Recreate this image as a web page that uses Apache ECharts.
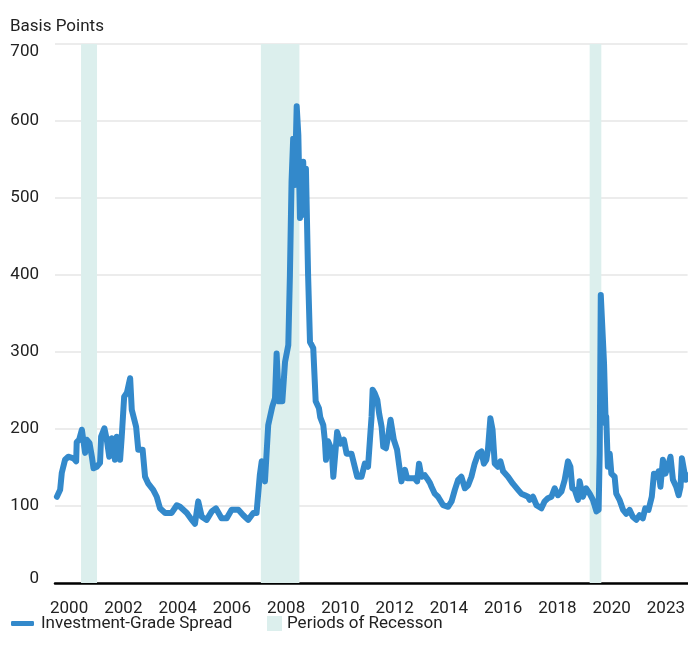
<!DOCTYPE html>
<html>
<head>
<meta charset="utf-8">
<script src="https://cdn.jsdelivr.net/npm/echarts@6/dist/echarts.min.js"></script>
<style>
  html, body { margin: 0; padding: 0; background: #fff; }
  #chart { width: 688px; height: 659px; }
</style>
</head>
<body>
<div id="chart"></div>
<script>
// Investment-grade corporate bond spread (basis points), plotted against chart year
const years = [
  1999.55, 1999.67, 1999.73, 1999.85, 1999.97, 2000.16, 2000.26, 2000.28, 2000.37, 2000.47,
  2000.53, 2000.59, 2000.65, 2000.75, 2000.84, 2000.90, 2001.02, 2001.14, 2001.18, 2001.30,
  2001.39, 2001.48, 2001.57, 2001.63, 2001.69, 2001.76, 2001.88, 2001.94, 2002.03, 2002.13,
  2002.25, 2002.31, 2002.47, 2002.55, 2002.71, 2002.80, 2002.92, 2003.10, 2003.23, 2003.35,
  2003.54, 2003.78, 2003.97, 2004.09, 2004.34, 2004.52, 2004.64, 2004.76, 2004.89, 2005.07,
  2005.26, 2005.41, 2005.62, 2005.81, 2005.99, 2006.24, 2006.42, 2006.60, 2006.79, 2006.91,
  2007.03, 2007.10, 2007.22, 2007.34, 2007.49, 2007.59, 2007.65, 2007.73, 2007.86, 2007.96,
  2008.08, 2008.14, 2008.20, 2008.26, 2008.32, 2008.39, 2008.45, 2008.51, 2008.57, 2008.63,
  2008.69, 2008.73, 2008.81, 2008.88, 2009.00, 2009.09, 2009.21, 2009.26, 2009.37, 2009.43,
  2009.47, 2009.49, 2009.55, 2009.68, 2009.74, 2009.88, 2010.01, 2010.13, 2010.23, 2010.41,
  2010.53, 2010.62, 2010.78, 2010.90, 2011.02, 2011.09, 2011.15, 2011.19, 2011.27, 2011.36,
  2011.43, 2011.52, 2011.58, 2011.68, 2011.76, 2011.85, 2011.97, 2012.09, 2012.19, 2012.25,
  2012.38, 2012.46, 2012.62, 2012.74, 2012.83, 2012.90, 2012.99, 2013.11, 2013.23, 2013.30,
  2013.36, 2013.48, 2013.60, 2013.79, 2013.97, 2014.10, 2014.22, 2014.34, 2014.46, 2014.59,
  2014.71, 2014.83, 2014.95, 2015.08, 2015.20, 2015.29, 2015.38, 2015.44, 2015.53, 2015.61,
  2015.69, 2015.81, 2015.90, 2016.00, 2016.18, 2016.36, 2016.55, 2016.67, 2016.80, 2016.92,
  2016.98, 2017.10, 2017.23, 2017.41, 2017.53, 2017.65, 2017.78, 2017.90, 2018.02, 2018.15,
  2018.27, 2018.39, 2018.48, 2018.55, 2018.64, 2018.76, 2018.82, 2018.94, 2019.06, 2019.19,
  2019.31, 2019.44, 2019.52, 2019.56, 2019.60, 2019.64, 2019.72, 2019.78, 2019.80, 2019.86,
  2019.93, 2019.99, 2020.11, 2020.17, 2020.29, 2020.42, 2020.54, 2020.66, 2020.78, 2020.91,
  2021.03, 2021.15, 2021.24, 2021.36, 2021.48, 2021.56, 2021.65, 2021.73, 2021.80, 2021.89,
  2021.98, 2022.07, 2022.17, 2022.26, 2022.38, 2022.47, 2022.54, 2022.59, 2022.66, 2022.73,
  2022.80
];
const spreads = [
  112, 121, 143, 160, 164, 162, 158, 183, 186, 199,
  199, 169, 186, 182, 164, 149, 151, 156, 190, 201,
  186, 164, 188, 182, 160, 190, 160, 190, 242, 247,
  266, 225, 203, 173, 173, 138, 129, 121, 112, 97,
  91, 91, 101, 99, 91, 82, 77, 106, 86, 82,
  93, 97, 84, 84, 95, 95, 88, 82, 91, 91,
  140, 158, 132, 205, 229, 240, 298, 236, 236, 287,
  309, 400, 521, 577, 517, 619, 582, 474, 504, 547,
  478, 538, 400, 313, 305, 236, 227, 215, 205, 184,
  160, 162, 184, 173, 138, 196, 181, 186, 168, 168,
  151, 138, 138, 155, 151, 186, 216, 251, 246, 238,
  220, 203, 177, 175, 190, 212, 186, 173, 147, 132,
  147, 136, 136, 136, 132, 155, 138, 140, 134, 130,
  125, 116, 112, 101, 99, 106, 121, 134, 138, 123,
  127, 138, 155, 168, 171, 155, 160, 173, 214, 199,
  155, 151, 158, 145, 138, 129, 121, 116, 114, 112,
  108, 112, 101, 97, 106, 110, 112, 123, 114, 119,
  134, 158, 151, 123, 121, 108, 132, 112, 123, 116,
  108, 93, 95, 168, 374, 372, 285, 207, 216, 151,
  168, 142, 138, 116, 108, 95, 90, 95, 86, 82,
  88, 84, 97, 95, 112, 142, 138, 145, 125, 160,
  142, 151, 164, 134, 125, 114, 125, 162, 164, 134,
  140
];

// Recession periods (start, end) on the same year scale
const recessionStarts = [2000.44, 2007.07, 2019.19];
const recessionEnds   = [2001.03, 2008.49, 2019.62];

// X-axis tick positions and the labels printed under them
const tickYears  = [2000, 2002, 2004, 2006, 2008, 2010, 2012, 2014, 2016, 2018, 2020, 2022];
const tickLabels = ['2000', '2002', '2004', '2006', '2008', '2010', '2012', '2014', '2016', '2018', '2020', '2023'];

const yTicks = [0, 100, 200, 300, 400, 500, 600, 700];

const FONT = 'Roboto';
const TEXT = '#222222';
const LINE_BLUE = '#3389CB';
const RECESSION = '#DCEFED';

const chart = echarts.init(document.getElementById('chart'), null, { renderer: 'canvas' });

const linePoints = years.map((y, i) => [y, spreads[i]]);
const recessionAreas = recessionStarts.map((s, i) => [{ xAxis: s }, { xAxis: recessionEnds[i] }]);
const yMax = yTicks[yTicks.length - 1];

chart.setOption({
  animation: false,
  backgroundColor: '#ffffff',
  textStyle: { fontFamily: FONT },
  title: {
    text: 'Basis Points',
    left: 5,
    top: 13,
    textStyle: { fontFamily: FONT, fontSize: 17, fontWeight: 'normal', color: TEXT }
  },
  grid: { left: 55, right: 0, top: 44, bottom: 76, containLabel: false },
  legend: [
    {
      data: [{ name: 'Investment-Grade Spread', icon: 'roundRect' }],
      left: 6,
      top: 610,
      itemWidth: 23,
      itemHeight: 5,
      itemGap: 8,
      textStyle: { fontFamily: FONT, fontSize: 17, color: TEXT, padding: [0, 0, 0, 2] }
    },
    {
      data: [{ name: 'Periods of Recesson', icon: 'rect' }],
      left: 262,
      top: 610,
      itemWidth: 15,
      itemHeight: 15,
      textStyle: { fontFamily: FONT, fontSize: 17, color: TEXT, padding: [0, 0, 0, 0] }
    }
  ],
  xAxis: {
    type: 'value',
    min: 1999.48,
    max: 2022.8,
    axisLine: { show: true, lineStyle: { color: '#000000', width: 2.5 } },
    axisTick: { show: false },
    splitLine: { show: false },
    axisLabel: {
      customValues: tickYears,
      formatter: (v) => {
        const k = tickYears.indexOf(Math.round(v));
        return k >= 0 ? tickLabels[k] : '';
      },
      fontFamily: FONT,
      fontSize: 17,
      color: TEXT,
      margin: 17
    }
  },
  yAxis: {
    type: 'value',
    min: yTicks[0],
    max: yMax,
    interval: 100,
    axisLine: { show: false },
    axisTick: { show: false },
    splitLine: { show: true, lineStyle: { color: '#E6E6E6', width: 1.5 } },
    axisLabel: {
      fontFamily: FONT,
      fontSize: 17,
      color: TEXT,
      margin: 16,
      align: 'right',
      // top label sits just under its gridline, the zero label just above the axis
      formatter: (v) => (v === yMax ? '{top|' + v + '}' : v === 0 ? '{zero|' + v + '}' : String(v)),
      rich: {
        top: { fontFamily: FONT, fontSize: 17, color: TEXT, padding: [16, 0, 0, 0] },
        zero: { fontFamily: FONT, fontSize: 17, color: TEXT, padding: [0, 0, 9, 0] }
      }
    }
  },
  series: [
    {
      name: 'Periods of Recesson',
      type: 'line',
      data: [],
      itemStyle: { color: RECESSION },
      lineStyle: { color: RECESSION },
      markArea: {
        silent: true,
        itemStyle: { color: RECESSION },
        data: recessionAreas
      },
      z: 1
    },
    {
      name: 'Investment-Grade Spread',
      type: 'line',
      data: linePoints,
      showSymbol: false,
      symbol: 'none',
      itemStyle: { color: LINE_BLUE },
      lineStyle: { color: LINE_BLUE, width: 6, join: 'round', cap: 'round' },
      z: 5
    }
  ]
});
</script>
</body>
</html>
